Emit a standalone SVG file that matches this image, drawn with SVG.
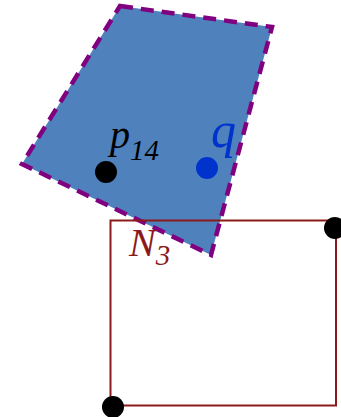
<svg xmlns="http://www.w3.org/2000/svg" width="341" height="417" viewBox="0 0 341 417">
<style>
.poly{fill:#4f81bd;stroke:#800080;stroke-width:4.5;stroke-dasharray:13,8}
.rect{fill:none;stroke:#8b1a1a;stroke-width:2}
.lbl{font-family:"Liberation Serif",serif;font-style:italic}
.dot{fill:#000}
</style>
<g id="region">
<polygon class="poly" points="120,6 272,27 211,255 22,164"/>
</g>
<g id="N3">
<rect class="rect" x="110.5" y="220.5" width="225.5" height="185"/>
<text class="lbl" x="129" y="256" font-size="40" fill="#8b1a1a">N<tspan font-size="29" dy="9">3</tspan></text>
</g>
<g id="p14">
<circle class="dot" cx="106" cy="172" r="11"/>
<text class="lbl" x="110" y="148" font-size="40" fill="#000">p<tspan font-size="29" dy="12">14</tspan></text>
</g>
<g id="q">
<circle cx="207" cy="168" r="11" fill="#0033cc"/>
<text class="lbl" x="211" y="147" font-size="50" fill="#0033cc">q</text>
</g>
<g id="corner1"><circle class="dot" cx="335" cy="228" r="11"/></g>
<g id="corner2"><circle class="dot" cx="113" cy="407" r="11"/></g>
<g id="connectors"></g>
</svg>
